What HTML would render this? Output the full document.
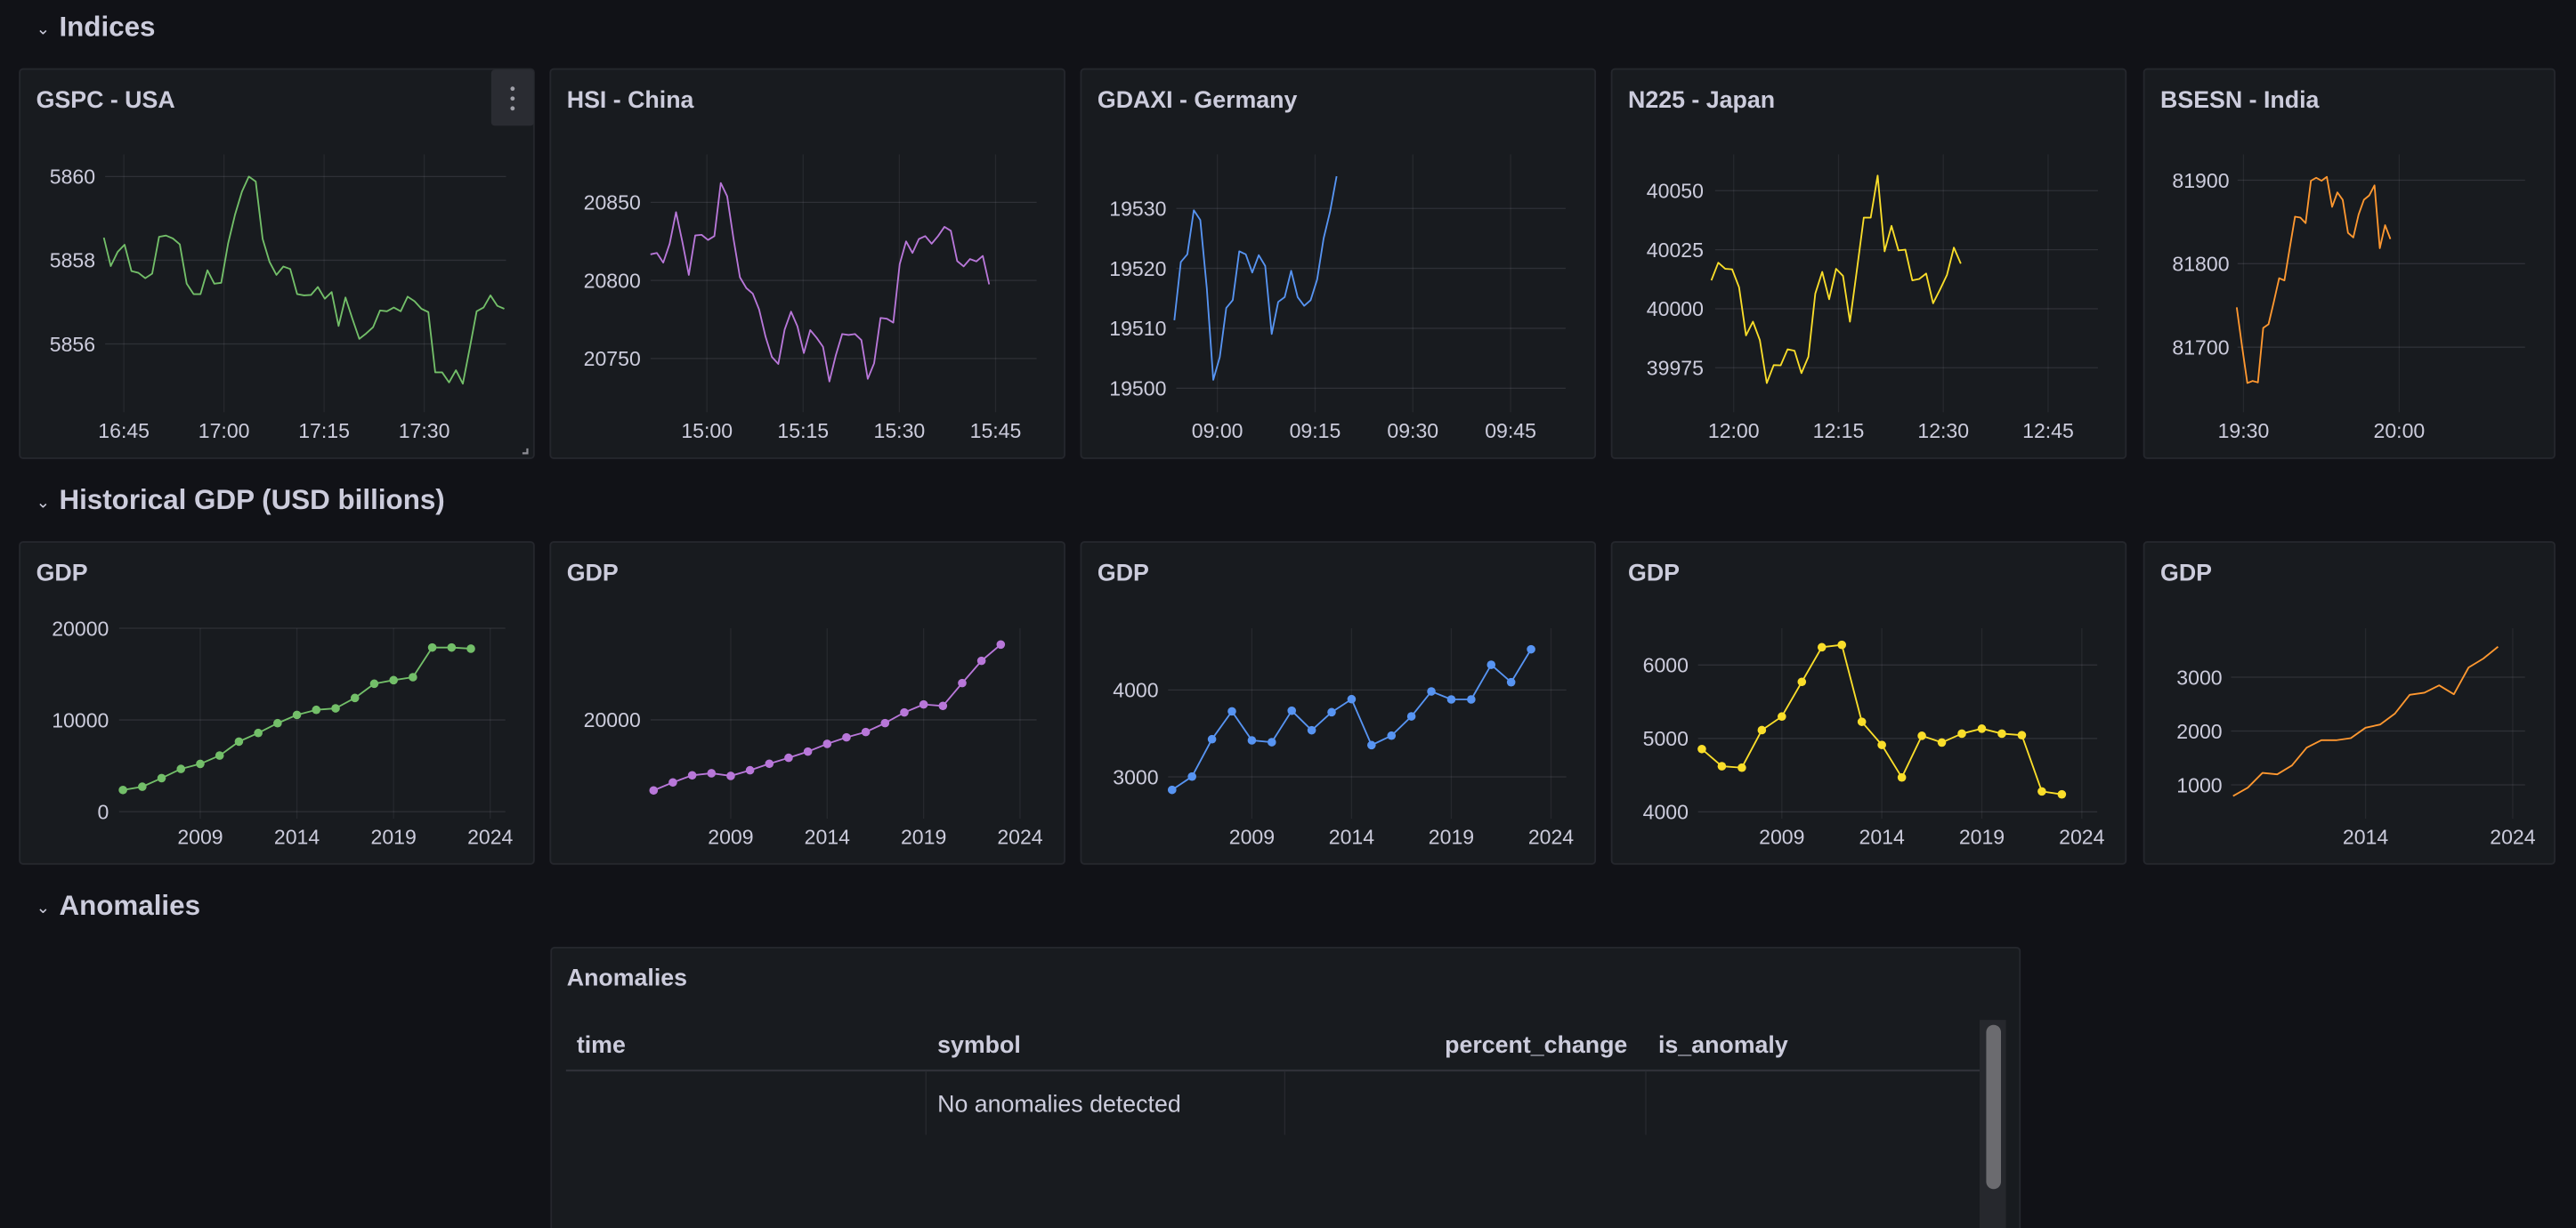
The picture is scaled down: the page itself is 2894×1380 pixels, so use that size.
<!DOCTYPE html>
<html><head><meta charset="utf-8"><title>Dashboard</title>
<style>
html,body{margin:0;padding:0;background:#111217;}
svg{display:block;font-family:"Liberation Sans",sans-serif;}
</style></head>
<body>
<svg id="dash" width="2894" height="1380" viewBox="0 0 1568 747.7" xmlns="http://www.w3.org/2000/svg">
<rect x="0" y="0" width="1568" height="748" fill="#111217"/>
<g><text x="22" y="21" fill="#ccccdc" font-size="10">⌄</text><text x="36" y="22" fill="#ccccdc" font-size="17" font-weight="600">Indices</text></g>
<g><text x="22" y="309" fill="#ccccdc" font-size="10">⌄</text><text x="36" y="310" fill="#ccccdc" font-size="17" font-weight="600">Historical GDP (USD billions)</text></g>
<g><text x="22" y="556" fill="#ccccdc" font-size="10">⌄</text><text x="36" y="557" fill="#ccccdc" font-size="17" font-weight="600">Anomalies</text></g>
<g id="charts"></g>
<g>
<rect x="335.5" y="577" width="894" height="180" rx="2" fill="#181b1f" stroke="#25272d" stroke-width="1"/>
<text x="345" y="600" fill="#ccccdc" font-size="14.5" font-weight="600">Anomalies</text>
<text x="351" y="641" fill="#ccccdc" font-size="14.5" font-weight="600">time</text>
<text x="570.6" y="641" fill="#ccccdc" font-size="14.5" font-weight="600">symbol</text>
<text x="990.6" y="641" fill="#ccccdc" font-size="14.5" font-weight="600" text-anchor="end">percent_change</text>
<text x="1009.4" y="641" fill="#ccccdc" font-size="14.5" font-weight="600">is_anomaly</text>
<line x1="344.5" y1="651.8" x2="1205" y2="651.8" stroke="#2f3138" stroke-width="1.2"/>
<line x1="563.6" y1="652" x2="563.6" y2="691" stroke="#2a2c32" stroke-width="0.6"/>
<line x1="782" y1="652" x2="782" y2="691" stroke="#2a2c32" stroke-width="0.6"/>
<line x1="1001.8" y1="652" x2="1001.8" y2="691" stroke="#2a2c32" stroke-width="0.6"/>
<text x="570.6" y="677" fill="#ccccdc" font-size="14.5">No anomalies detected</text>
<rect x="1205" y="621" width="16" height="130" fill="#26282d"/>
<rect x="1209" y="624" width="9" height="100" rx="4.5" fill="#6b6b6f"/>
</g>
</svg>
<script>
// ---- Index data (minutes relative to first x tick) ----
const gspcValues=[5858.54,5857.86,5858.20,5858.37,5857.74,5857.70,5857.57,5857.68,5858.56,5858.59,5858.52,5858.38,5857.44,5857.19,5857.19,5857.76,5857.44,5857.46,5858.40,5859.09,5859.64,5860.00,5859.88,5858.51,5857.96,5857.65,5857.85,5857.79,5857.19,5857.16,5857.17,5857.36,5857.08,5857.24,5856.43,5857.11,5856.60,5856.12,5856.25,5856.40,5856.80,5856.78,5856.87,5856.78,5857.13,5857.02,5856.84,5856.76,5855.32,5855.32,5855.08,5855.37,5855.05,5855.90,5856.78,5856.87,5857.16,5856.91,5856.84];
const gspcSpan=[-3,57];
const gspcXTicks=['16:45','17:00','17:15','17:30'];
const gspcXTickMin=[0,15,30,45];
const gspcYTicks=[5856,5858,5860];

const hsiValues=[20816.7,20817.6,20811.4,20823.5,20843.7,20824.5,20803.5,20828.8,20829.2,20825.9,20828.4,20862.4,20853.9,20826.5,20802,20795.1,20791.6,20781.4,20764.1,20751,20746.5,20768.6,20780,20770.6,20753.5,20768.2,20763.3,20757.5,20735.3,20752,20765.7,20765.1,20765.7,20761.8,20737,20747,20776,20775.5,20773,20810.4,20825,20817.6,20826.5,20828.4,20823.5,20828.4,20834.3,20831.8,20812.4,20809,20813.7,20812.2,20815.7,20797.5];
const hsiSpan=[-8.8,44];
const hsiXTicks=['15:00','15:15','15:30','15:45'];
const hsiXTickMin=[0,15,30,45];
const hsiYTicks=[20750,20800,20850];

const gdaxiValues=[19511.35,19521.06,19522.34,19529.69,19528.06,19516.71,19501.4,19505.2,19513.4,19514.7,19522.85,19522.34,19519.3,19522.2,19520.4,19509.05,19514.4,19515.2,19519.6,19515.2,19513.75,19514.7,19518.15,19525,19529.5,19535.37];
const gdaxiSpan=[-6.6,18.3];
const gdaxiXTicks=['09:00','09:15','09:30','09:45'];
const gdaxiXTickMin=[0,15,30,45];
const gdaxiYTicks=[19500,19510,19520,19530];

const n225Values=[40012,40019.5,40016.9,40016.7,40009.1,39988.7,39994.5,39986.7,39968.5,39976.1,39976,39982.8,39982.2,39972.7,39979.6,40006.4,40015.6,40004,40016.9,40013.9,39994.5,40016.3,40038.6,40038.6,40056.4,40024.3,40035.1,40024.7,40025,40012,40012.6,40014.9,40002.3,40008.1,40014.3,40025.9,40019.1];
const n225Span=[-3.2,32.5];
const n225XTicks=['12:00','12:15','12:30','12:45'];
const n225XTickMin=[0,15,30,45];
const n225YTicks=[39975,40000,40025,40050];

const bsesnValues=[81747.7,81701.1,81657.1,81659.6,81657.8,81723.1,81727.5,81754.3,81782.6,81780,81818.5,81856.3,81855.2,81848.6,81899.3,81902.9,81899.3,81904,81868.1,81885.3,81876.5,81836.9,81831.4,81858.9,81876.5,81881.7,81893.8,81818.5,81846.1,81829.5];
const bsesnSpan=[-1.3,28.3];
const bsesnXTicks=['19:30','20:00'];
const bsesnXTickMin=[0,30];
const bsesnYTicks=[81700,81800,81900];

// ---- GDP data ----
const gdpYears=[2005,2006,2007,2008,2009,2010,2011,2012,2013,2014,2015,2016,2017,2018,2019,2020,2021,2022,2023];
const gdpUsa=[2362,2718,3657,4660,5210,6117,7638,8576,9644,10550,11100,11262,12395,13948,14337,14660,17896,17896,17767];
const gdpChina=[13200,13971,14657,14857,14600,15143,15771,16343,16943,17686,18314,18829,19686,20714,21486,21343,23543,25686,27257];
const gdpGermany=[2850,3003,3433,3754,3420,3399,3761,3536,3744,3894,3365,3474,3696,3983,3891,3891,4290,4089,4468];
const gdpJapan=[4855,4621,4601,5113,5298,5770,6242,6274,5226,4911,4468,5036,4944,5065,5133,5065,5044,4278,4238];
const gdpIndia=[793,948,1223,1196,1361,1691,1829,1829,1868,2061,2121,2325,2672,2711,2848,2683,3179,3344,3565];
const gdpXTicks=[2009,2014,2019,2024];
const gdpIndiaXTicks=[2014,2024];
const gdpUsaYTicks=[0,10000,20000];
const gdpChinaYTicks=[20000];
const gdpGermanyYTicks=[3000,4000];
const gdpJapanYTicks=[4000,5000,6000];
const gdpIndiaYTicks=[1000,2000,3000];

const NS='http://www.w3.org/2000/svg';
const root=document.getElementById('charts');
function mk(tag,attrs,parent){const e=document.createElementNS(NS,tag);for(const k in attrs)e.setAttribute(k,attrs[k]);(parent||root).appendChild(e);return e;}

function panel(x,w,y,h,title,name){
  const g=mk('g',{});
  
  
  mk('rect',{x:x,y:y,width:w,height:h,rx:2,fill:'#181b1f',stroke:'#25272d','stroke-width':1},g);
  const t=mk('text',{x:x+10,y:y+23.5,fill:'#ccccdc','font-size':14.5,'font-weight':600},g);
  t.textContent=title;
  
  
  return g;
}

function chart(g,c){
  // c: geometry; data via c.xs (data x), c.ys, ticks
  const xs=v=>c.xp0+(v-c.xv0)*(c.xp1-c.xp0)/(c.xv1-c.xv0);
  const ys=v=>c.yp0+(c.yv0-v)*(c.yp1-c.yp0)/(c.yv0-c.yv1);
  c.yTicks.forEach(v=>{
    mk('line',{x1:c.gl,x2:c.gr,y1:ys(v),y2:ys(v),stroke:'rgba(204,204,220,0.12)','stroke-width':0.7},g);
    const t=mk('text',{x:c.lr,y:ys(v)+4.5,fill:'#ccccdc','font-size':12.5,'text-anchor':'end'},g);
    t.textContent=String(v);
    
    
  });
  c.xTickVals.forEach((v,i)=>{
    mk('line',{x1:xs(v),x2:xs(v),y1:c.gt,y2:c.gb,stroke:'rgba(204,204,220,0.08)','stroke-width':0.7},g);
    const t=mk('text',{x:xs(v),y:c.lb,fill:'#ccccdc','font-size':12.5,'text-anchor':'middle'},g);
    t.textContent=c.xTickLabels[i];
    
    
  });
  const pts=c.xd.map((x,i)=>xs(x).toFixed(2)+','+ys(c.yd[i]).toFixed(2)).join(' ');
  const pl=mk('polyline',{points:pts,fill:'none',stroke:c.color,'stroke-width':1,'stroke-linejoin':'round'},g);
  
  
  if(c.dots){
    c.xd.forEach((x,i)=>{
      const d=mk('circle',{cx:xs(x),cy:ys(c.yd[i]),r:2.6,fill:c.color},g);
      
      
    });
  }
}
function evenTimes(span,n){const a=[];for(let i=0;i<n;i++)a.push(span[0]+i*(span[1]-span[0])/(n-1));return a;}

const P=[[12,313],[335,313],[658,313],[981,313],[1305,250]];
const idx=[
 {t:'GSPC - USA',n:'gspc-panel',v:gspcValues,s:gspcSpan,xl:gspcXTicks,xm:gspcXTickMin,yt:gspcYTicks,col:'#73bf69',gl:64,gr:308,xp0:75.4,xp1:258.2,yv0:5860,yp0:107.5,yv1:5856,yp1:209.4,lr:58},
 {t:'HSI - China',n:'hsi-panel',v:hsiValues,s:hsiSpan,xl:hsiXTicks,xm:hsiXTickMin,yt:hsiYTicks,col:'#b877d9',gl:396,gr:631,xp0:430.3,xp1:606,yv0:20850,yp0:123.2,yv1:20750,yp1:218.3,lr:390},
 {t:'GDAXI - Germany',n:'gdaxi-panel',v:gdaxiValues,s:gdaxiSpan,xl:gdaxiXTicks,xm:gdaxiXTickMin,yt:gdaxiYTicks,col:'#5794f2',gl:716,gr:953,xp0:741,xp1:919.5,yv0:19530,yp0:126.9,yv1:19500,yp1:236.4,lr:710},
 {t:'N225 - Japan',n:'n225-panel',v:n225Values,s:n225Span,xl:n225XTicks,xm:n225XTickMin,yt:n225YTicks,col:'#fade2a',gl:1044,gr:1277,xp0:1055.3,xp1:1246.7,yv0:40050,yp0:116.1,yv1:39975,yp1:223.9,lr:1037},
 {t:'BSESN - India',n:'bsesn-panel',v:bsesnValues,s:bsesnSpan,xl:bsesnXTicks,xm:bsesnXTickMin,yt:bsesnYTicks,col:'#ff9830',gl:1362,gr:1537,xp0:1365.6,xp1:1460.4,yv0:81900,yp0:109.7,yv1:81700,yp1:211.4,lr:1357}
];
idx.forEach((d,i)=>{
  const g=panel(P[i][0],P[i][1],42,237,d.t,d.n);
  const xm=d.xm;
  chart(g,{xd:evenTimes(d.s,d.v.length),yd:d.v,xTickVals:xm,xTickLabels:d.xl,yTicks:d.yt,color:d.col,
    xv0:xm[0],xv1:xm[xm.length-1],xp0:d.xp0,xp1:d.xp1,yv0:d.yv0,yp0:d.yp0,yv1:d.yv1,yp1:d.yp1,
    gl:d.gl,gr:d.gr,gt:94,gb:251,lr:d.lr,lb:266.5,dots:false});
});
// menu button on first panel
const mb=mk('g',{});


mk('rect',{x:299,y:42.5,width:26,height:34,rx:2,fill:'#2a2c32'},mb);
[54,60,66].forEach(y=>mk('circle',{cx:312,cy:y,r:1.3,fill:'#9fa0a8'},mb));
const rs=mk('path',{d:'M321 273 L321 276 L318 276',stroke:'#8e8e95','stroke-width':1.2,fill:'none'});



const gdp=[
 {n:'gdp-usa-panel',v:gdpUsa,xt:gdpXTicks,yt:gdpUsaYTicks,col:'#73bf69',gl:72.5,gr:307.6,xv0:2009,xp0:121.9,xv1:2024,xp1:298.4,yv0:20000,yp0:382.5,yv1:0,yp1:494.2,lr:66.3,dots:true},
 {n:'gdp-china-panel',v:gdpChina,xt:gdpXTicks,yt:gdpChinaYTicks,col:'#b877d9',gl:396,gr:631,xv0:2009,xp0:444.8,xv1:2024,xp1:620.9,yv0:20000,yp0:438.3,yv1:10000,yp1:501.5,lr:390,dots:true},
 {n:'gdp-germany-panel',v:gdpGermany,xt:gdpXTicks,yt:gdpGermanyYTicks,col:'#5794f2',gl:711,gr:953.4,xv0:2009,xp0:762,xv1:2024,xp1:944.1,yv0:4000,yp0:420.1,yv1:3000,yp1:473,lr:705.2,dots:true},
 {n:'gdp-japan-panel',v:gdpJapan,xt:gdpXTicks,yt:gdpJapanYTicks,col:'#fade2a',gl:1033.6,gr:1276.6,xv0:2009,xp0:1084.6,xv1:2024,xp1:1267.2,yv0:6000,yp0:404.9,yv1:4000,yp1:494.3,lr:1027.8,dots:true},
 {n:'gdp-india-panel',v:gdpIndia,xt:gdpIndiaXTicks,yt:gdpIndiaYTicks,col:'#ff9830',gl:1358,gr:1537,xv0:2014,xp0:1439.9,xv1:2024,xp1:1529.5,yv0:3000,yp0:412.3,yv1:1000,yp1:477.9,lr:1352.7,dots:false}
];
gdp.forEach((d,i)=>{
  const g=panel(P[i][0],P[i][1],330,196,'GDP',d.n);
  chart(g,{xd:gdpYears,yd:d.v,xTickVals:d.xt,xTickLabels:d.xt.map(String),yTicks:d.yt,color:d.col,
    xv0:d.xv0,xv1:d.xv1,xp0:d.xp0,xp1:d.xp1,yv0:d.yv0,yp0:d.yp0,yv1:d.yv1,yp1:d.yp1,
    gl:d.gl,gr:d.gr,gt:382.5,gb:498.5,lr:d.lr,lb:513.8,dots:d.dots});
});
</script>
</body></html>
